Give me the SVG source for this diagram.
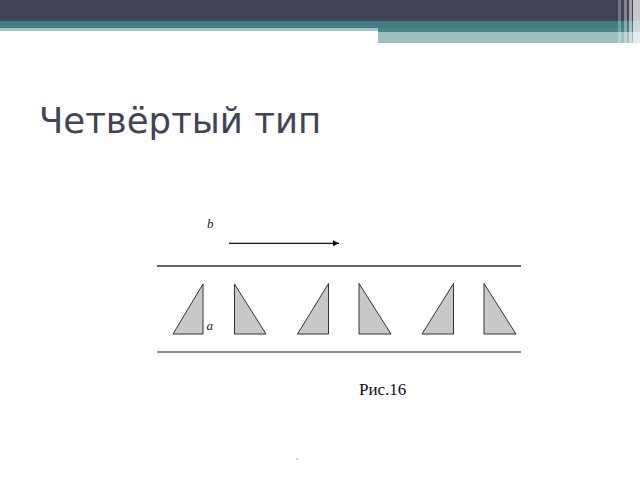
<svg xmlns="http://www.w3.org/2000/svg" width="640" height="480" viewBox="0 0 640 480">
<style>
.tri{fill:#c8c8c8;stroke:#333;stroke-width:1;stroke-linejoin:miter}
.lbl{font-family:"Liberation Serif",serif;font-style:italic;font-size:13px;fill:#222}
.title{font-family:"DejaVu Sans",sans-serif;font-size:35.5px;fill:#424455}
.cap{font-family:"Liberation Serif",serif;font-size:17px;fill:#111}
</style>
<defs>
<marker id="ah" viewBox="0 0 10 10" refX="10" refY="5" markerWidth="8" markerHeight="6" markerUnits="userSpaceOnUse" orient="auto">
<path d="M0,0 L10,5 L0,10 z" fill="#111"/>
</marker>
</defs>
<g id="header">
<rect x="0" y="0" width="640" height="21" fill="#424455"/>
<rect x="0" y="21" width="640" height="7" fill="#3f7f82"/>
<rect x="0" y="28" width="378" height="3" fill="#a6c4c6"/>
<rect x="378" y="28" width="262" height="4" fill="#4a8486"/>
<rect x="378" y="32" width="262" height="11" fill="#a0bfc2"/>
<rect x="618" y="0" width="3" height="43" fill="#fff" opacity="0.25"/>
<rect x="624" y="0" width="3" height="43" fill="#fff" opacity="0.35"/>
<rect x="629" y="0" width="3" height="43" fill="#fff" opacity="0.5"/>
<rect x="633" y="0" width="7" height="43" fill="#fff" opacity="0.7"/>
</g>
<text id="title" class="title" x="39" y="133">Четвёртый тип</text>
<g id="connectors">
<line x1="157" y1="266" x2="521" y2="266" stroke="#333" stroke-width="1.3"/>
<line x1="157" y1="352" x2="521" y2="352" stroke="#666" stroke-width="1.3"/>
<line x1="229" y1="243.3" x2="339" y2="243.3" stroke="#111" stroke-width="1.3" marker-end="url(#ah)"/>
</g>
<g id="t1"><polygon class="tri" points="173,334 203,334 203,284"/></g>
<g id="t2"><polygon class="tri" points="234.5,284 234.5,334 266,334"/></g>
<g id="t3"><polygon class="tri" points="297.5,334 328.5,334 328.5,283.5"/></g>
<g id="t4"><polygon class="tri" points="359,283.5 359,334 391,334"/></g>
<g id="t5"><polygon class="tri" points="422,334 453.5,334 453.5,283.5"/></g>
<g id="t6"><polygon class="tri" points="484,283.5 484,334 516,334"/></g>
<text id="label-b" class="lbl" x="207" y="228">b</text>
<text id="label-a" class="lbl" x="206.5" y="330">a</text>
<text id="caption" class="cap" x="359" y="395">Рис.16</text>
<circle cx="297" cy="459" r="0.8" fill="#999"/>
</svg>
